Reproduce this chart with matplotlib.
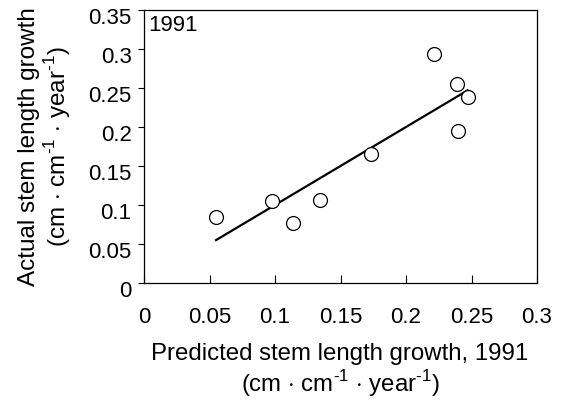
import numpy as np
import matplotlib
matplotlib.use('Agg')
import matplotlib.pyplot as plt
from matplotlib.transforms import ScaledTranslation

plt.rcParams['font.family'] = ['Liberation Sans', 'DejaVu Sans']
plt.rcParams['mathtext.fontset'] = 'custom'
plt.rcParams['mathtext.rm'] = 'Liberation Sans'

# observed vs predicted stem length growth, 1991
predicted = [0.055, 0.098, 0.114, 0.134, 0.173, 0.221, 0.239, 0.247, 0.240]
actual = [0.085, 0.105, 0.077, 0.107, 0.165, 0.293, 0.255, 0.238, 0.195]

# regression line endpoints
fit_x = [0.055, 0.247]
fit_y = [0.055, 0.247]

x_ticks = [0, 0.05, 0.1, 0.15, 0.2, 0.25, 0.3]
x_labels = ['0', '0.05', '0.1', '0.15', '0.2', '0.25', '0.3']
y_ticks = [0, 0.05, 0.1, 0.15, 0.2, 0.25, 0.3, 0.35]
y_labels = ['0', '0.05', '0.1', '0.15', '0.2', '0.25', '0.3', '0.35']

fig = plt.figure(figsize=(5.61, 4.0), dpi=100)
ax = fig.add_axes([144 / 561, 1 - 283 / 400, (537 - 144) / 561, (283 - 10) / 400])

ax.plot(fit_x, fit_y, color='black', lw=1.6)
ax.plot(predicted, actual, 'o', ms=10, mfc='white', mec='black', mew=0.9)

ax.set_xlim(0, 0.3)
ax.set_ylim(0, 0.35)
ax.set_xticks(x_ticks)
ax.set_xticklabels(x_labels)
ax.set_yticks(y_ticks)
ax.set_yticklabels(y_labels)
ax.tick_params(axis='x', direction='in', length=6, pad=17.5, labelsize=16)
ax.tick_params(axis='y', direction='out', length=4, pad=5, labelsize=16)
# y tick labels sit slightly below their ticks in the original
for lab in ax.get_yticklabels():
    lab.set_transform(lab.get_transform() + ScaledTranslation(0, -0.06, fig.dpi_scale_trans))
for s in ax.spines.values():
    s.set_linewidth(0.9)

ax.text(0.003, 0.343, '1991', fontsize=16, va='top', ha='left')

unit = '(cm $\\cdot$ cm$^{\\text{-1}}$ $\\cdot$ year$^{\\text{-1}}$)'
fig.text(340 / 561, 1 - 360 / 400, 'Predicted stem length growth, 1991',
         fontsize=17.3, ha='center', va='baseline')
fig.text(340 / 561, 1 - 392 / 400, unit, fontsize=17.3, ha='center', va='baseline')
fig.text(35 / 561, 1 - 147 / 400, 'Actual stem length growth', fontsize=17.5,
         rotation=90, rotation_mode='anchor', ha='center', va='baseline')
fig.text(66 / 561, 1 - 147 / 400, unit, fontsize=17.5,
         rotation=90, rotation_mode='anchor', ha='center', va='baseline')

fig.savefig('out.png', dpi=100)
